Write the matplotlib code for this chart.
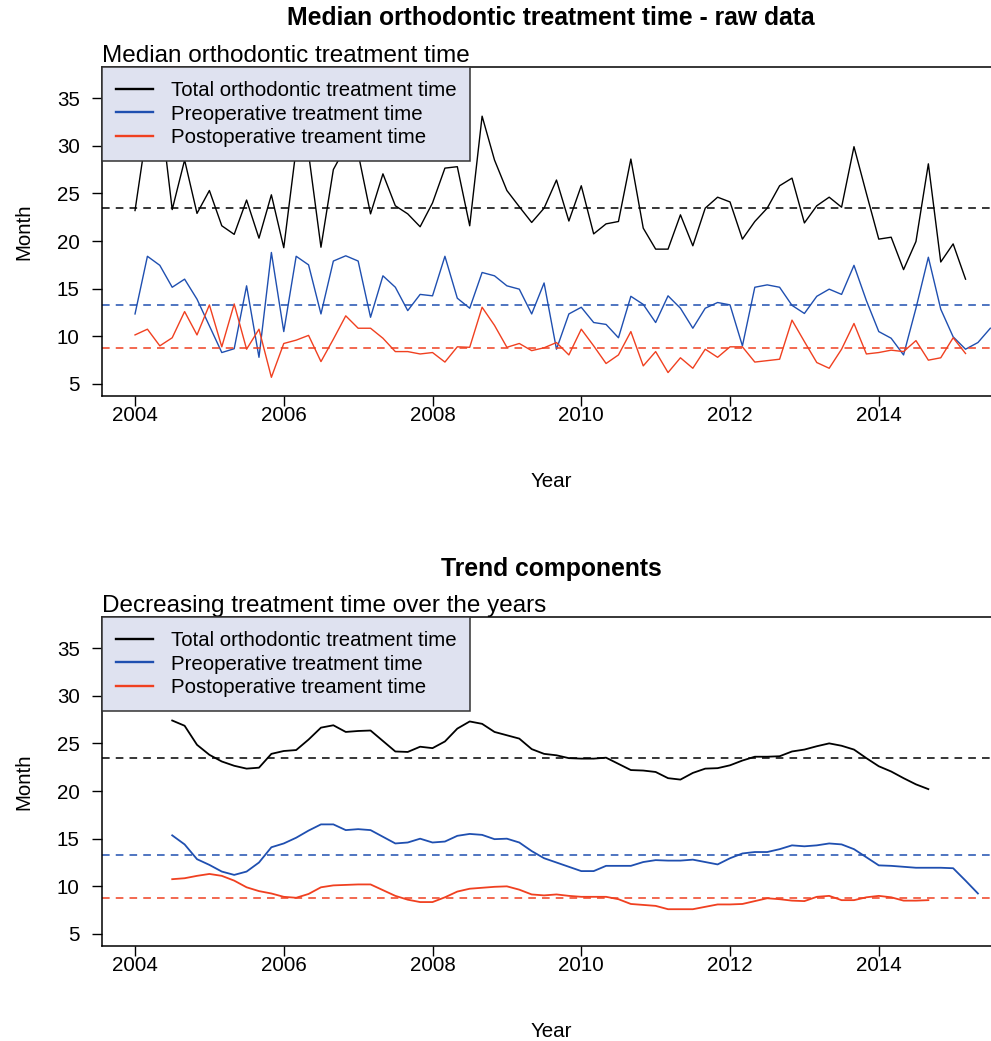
import numpy as np
import matplotlib.pyplot as plt

plt.rcParams['font.family'] = ['Liberation Sans', 'DejaVu Sans']

# bimonthly observations starting Jan 2004
total_raw = [23.2, 32.0, 34.3, 23.3, 28.5, 22.9, 25.3, 21.6, 20.7, 24.3,
             20.3, 24.85, 19.3, 29.7, 29.2, 19.35, 27.5, 29.9, 29.2, 22.85,
             27.05, 23.7, 22.85, 21.5, 24.0, 27.65, 27.8, 21.6, 33.1, 28.5,
             25.3, 23.6, 21.95, 23.45, 26.4, 22.1, 25.8, 20.75, 21.8, 22.05,
             28.6, 21.35, 19.15, 19.15, 22.75, 19.5, 23.45, 24.6, 24.1, 20.2,
             22.05, 23.45, 25.8, 26.6, 21.9, 23.7, 24.6, 23.55, 29.9, 25.0,
             20.2, 20.4, 17.0, 19.95, 28.1, 17.8, 19.7, 16.0]
pre_raw = [12.35, 18.4, 17.45, 15.15, 16.0, 13.9, 11.1, 8.3, 8.7, 15.3,
           7.8, 18.8, 10.5, 18.4, 17.5, 12.35, 17.9, 18.45, 17.9, 12.0,
           16.35, 15.15, 12.7, 14.4, 14.25, 18.4, 14.0, 12.95, 16.7, 16.35,
           15.3, 14.95, 12.35, 15.6, 8.65, 12.35, 13.05, 11.45, 11.25, 9.85,
           14.2, 13.35, 11.45, 14.25, 12.95, 10.85, 12.95, 13.55, 13.3, 9.0,
           15.15, 15.4, 15.15, 13.25, 12.4, 14.2, 14.95, 14.4, 17.45, 13.75,
           10.5, 9.8, 8.05, 12.95, 18.3, 12.85, 9.95, 8.65, 9.35, 10.85]
post_raw = [10.15, 10.75, 9.0, 9.85, 12.6, 10.15, 13.3, 8.9, 13.4, 8.65,
            10.75, 5.7, 9.25, 9.6, 10.1, 7.35, 9.7, 12.15, 10.85, 10.85,
            9.8, 8.4, 8.4, 8.15, 8.3, 7.3, 8.9, 8.85, 13.05, 11.15,
            8.85, 9.25, 8.5, 8.8, 9.35, 8.05, 10.75, 9.0, 7.15, 8.05,
            10.5, 6.9, 8.4, 6.2, 7.75, 6.65, 8.65, 7.8, 8.9, 8.9,
            7.3, 7.45, 7.6, 11.7, 9.45, 7.25, 6.65, 8.65, 11.35, 8.15,
            8.3, 8.55, 8.4, 9.55, 7.5, 7.75, 9.85, 8.2]

# trend components start at the 4th observation (Jul 2004)
total_trend = [27.4, 26.85, 24.85, 23.8, 23.1, 22.65, 22.35, 22.45, 23.9, 24.2,
               24.3, 25.4, 26.65, 26.9, 26.2, 26.3, 26.35, 25.25, 24.15, 24.1,
               24.65, 24.5, 25.2, 26.55, 27.3, 27.05, 26.2, 25.85, 25.5, 24.4,
               23.9, 23.75, 23.45, 23.4, 23.4, 23.5, 22.85, 22.2, 22.15, 22.0,
               21.35, 21.2, 21.9, 22.35, 22.4, 22.7, 23.2, 23.6, 23.6, 23.65,
               24.15, 24.35, 24.7, 25.0, 24.75, 24.35, 23.45, 22.6, 22.05, 21.35,
               20.7, 20.2]
pre_trend = [15.35, 14.4, 12.85, 12.25, 11.55, 11.2, 11.55, 12.5, 14.1, 14.5,
             15.1, 15.85, 16.5, 16.5, 15.9, 16.0, 15.9, 15.2, 14.5, 14.6,
             15.0, 14.6, 14.7, 15.3, 15.5, 15.4, 14.95, 15.0, 14.6, 13.7,
             12.95, 12.5, 12.05, 11.6, 11.6, 12.15, 12.15, 12.15, 12.55, 12.75,
             12.7, 12.7, 12.8, 12.55, 12.3, 12.95, 13.45, 13.6, 13.6, 13.9,
             14.3, 14.2, 14.3, 14.5, 14.4, 13.9, 13.05, 12.2, 12.15, 12.05,
             11.95, 11.95, 11.95, 11.9, 10.6, 9.25]
post_trend = [10.75, 10.85, 11.1, 11.3, 11.1, 10.6, 9.9, 9.5, 9.25, 8.9,
              8.8, 9.2, 9.9, 10.1, 10.15, 10.2, 10.2, 9.6, 9.0, 8.6,
              8.35, 8.35, 8.85, 9.45, 9.75, 9.85, 9.95, 10.0, 9.65, 9.15,
              9.05, 9.15, 9.0, 8.9, 8.9, 8.9, 8.65, 8.15, 8.05, 7.95,
              7.6, 7.6, 7.6, 7.85, 8.1, 8.1, 8.15, 8.45, 8.75, 8.65,
              8.5, 8.45, 8.9, 9.0, 8.55, 8.55, 8.85, 9.0, 8.85, 8.5,
              8.5, 8.55]

# overall medians
mean_total, mean_pre, mean_post = 23.5, 13.3, 8.8

labels = ['Total orthodontic treatment time', 'Preoperative treatment time',
          'Postoperative treament time']
colors = ['black', '#1f4fb0', '#f04020']


def years(n, start=0):
    return 2004 + (start + np.arange(n)) / 6.0


W, H = 991, 1041
fig = plt.figure(figsize=(W / 100, H / 100), dpi=100)

panels = [
    (67, 396, 18, 'Median orthodontic treatment time - raw data',
     'Median orthodontic treatment time', (total_raw, pre_raw, post_raw), 0, 1.0),
    (617, 946, 569, 'Trend components',
     'Decreasing treatment time over the years', (total_trend, pre_trend, post_trend), 3, 1.3),
]

for top, bottom, ty, title, subtitle, series, start, lw in panels:
    ax = fig.add_axes([102 / W, 1 - bottom / H, (1000 - 102) / W, (bottom - top) / H])
    for s, c in zip(series, colors):
        ax.plot(years(len(s), start), s, color=c, lw=lw)
    for m, c in zip((mean_total, mean_pre, mean_post), colors):
        ax.axhline(m, color=c, lw=1.1, ls=(0, (5, 4)))
    ax.set_xlim(2003.556, 2015.63)
    ax.set_ylim(3.74, 38.26)
    ax.set_xticks(range(2004, 2016, 2))
    ax.set_yticks(range(5, 40, 5))
    ax.tick_params(labelsize=14.8, length=7, width=1, colors='black')
    ax.tick_params(axis='x', pad=0)
    ax.tick_params(axis='y', pad=9)
    for sp in ax.spines.values():
        sp.set_linewidth(1.1)
    ax.set_xlabel('Year', fontsize=14.8, labelpad=34)
    ax.set_ylabel('Month', fontsize=14.8, labelpad=17)
    ax.set_title(subtitle, loc='left', fontsize=17.5, pad=1)
    fig.text(551 / W, 1 - ty / H, title,
             ha='center', va='center', fontsize=17.8, fontweight='bold')
    handles = [plt.Line2D([], [], color=c, lw=1.7) for c in colors]
    leg = ax.legend(handles, labels, loc='upper left', bbox_to_anchor=(0, 1),
                    borderaxespad=0, fontsize=14.7, frameon=True, fancybox=False,
                    facecolor='#dfe2f0', edgecolor='#333333', framealpha=1,
                    handlelength=1.8, handletextpad=0.88, labelspacing=0.23,
                    borderpad=0.68)
    leg.get_frame().set_linewidth(1.1)

fig.savefig('out.png', dpi=100)
